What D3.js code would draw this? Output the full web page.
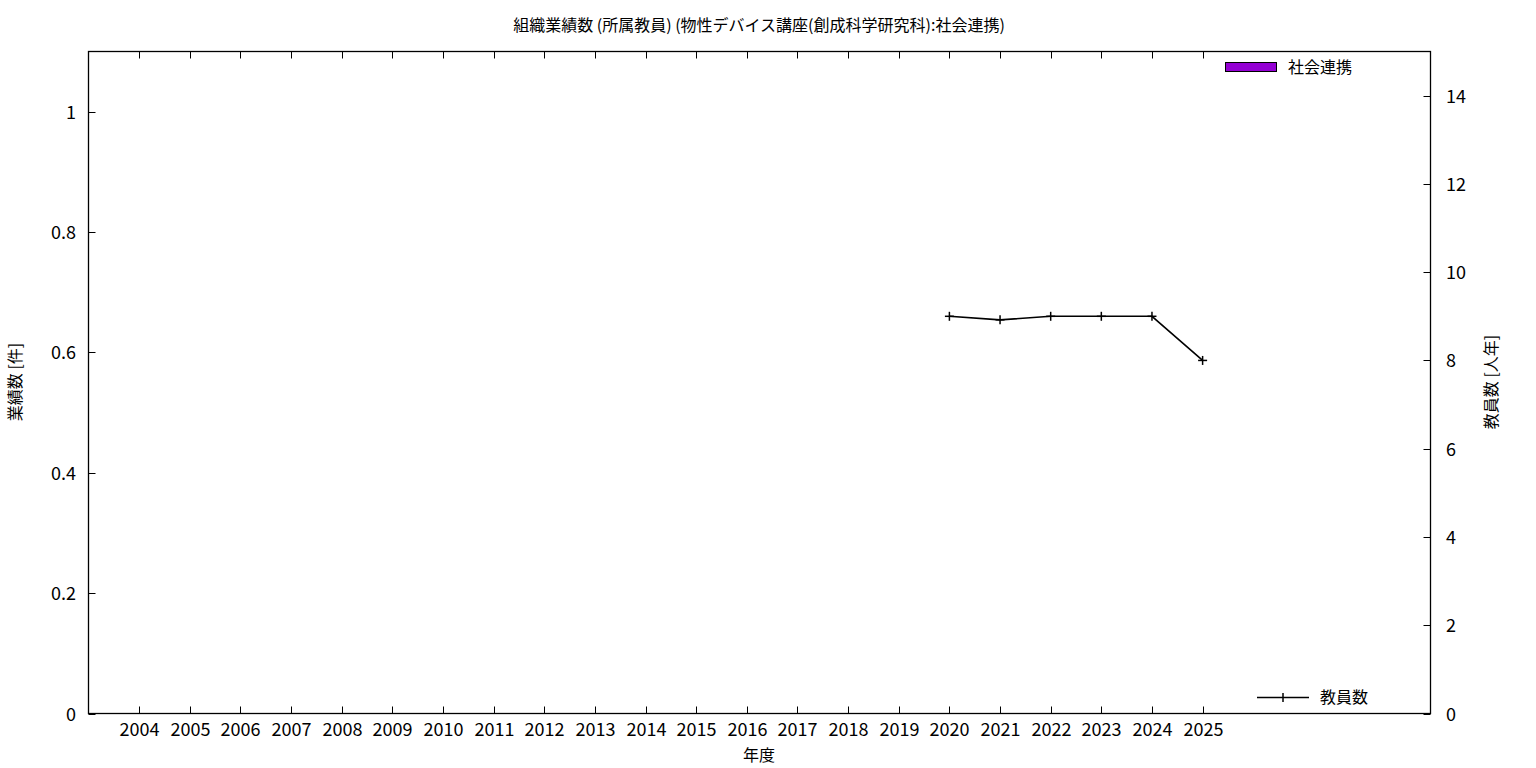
<!DOCTYPE html>
<html><head><meta charset="utf-8">
<script src="https://cdn.jsdelivr.net/npm/d3@7"></script>
<style>
html,body{margin:0;padding:0;background:#fff;}
text{font-family:"Noto Sans CJK JP","Noto Sans",sans-serif;fill:#000;}
</style></head>
<body><svg id="c" width="1536" height="768"></svg>
<script>
const titleText = "組織業績数 (所属教員) (物性デバイス講座(創成科学研究科):社会連携)";
const years = [2004,2005,2006,2007,2008,2009,2010,2011,2012,2013,2014,2015,2016,2017,2018,2019,2020,2021,2022,2023,2024,2025];
const teacherYears = [2020,2021,2022,2023,2024,2025];
const teacherValues = [9,8.92,9,9,9,8];
const barSeries = "社会連携";
const lineSeries = "教員数";
const leftTicks = [0,0.2,0.4,0.6,0.8,1];
const rightTicks = [0,2,4,6,8,10,12,14];

const svg = d3.select("#c");
const L=88.5, R=1430.5, T=51.5, B=713.5;
const x = d3.scaleLinear().domain([2003,2029.5]).range([L,R]);
const yL = d3.scaleLinear().domain([0,1.1]).range([B,T]);
const yR = d3.scaleLinear().domain([0,15]).range([B,T]);

// title
svg.append("text").attr("x",759).attr("y",31).attr("text-anchor","middle")
  .style("font-size","16px").text(titleText);

// frame
svg.append("rect").attr("x",L).attr("y",T).attr("width",R-L).attr("height",B-T)
  .attr("fill","none").attr("stroke","#000").attr("stroke-width",1.3);

const tl = 7;
const gx = svg.append("g");
years.forEach(v=>{
  const px = Math.round(x(v))+0.5;
  gx.append("line").attr("x1",px).attr("x2",px).attr("y1",B).attr("y2",B-tl).attr("stroke","#000");
  gx.append("line").attr("x1",px).attr("x2",px).attr("y1",T).attr("y2",T+tl).attr("stroke","#000");
  gx.append("text").attr("x",px).attr("y",736).attr("text-anchor","middle").style("font-size","18px").text(v);
});
leftTicks.forEach(v=>{
  const py = Math.round(yL(v))+0.5;
  svg.append("line").attr("x1",L).attr("x2",L+tl).attr("y1",py).attr("y2",py).attr("stroke","#000");
  svg.append("text").attr("x",76).attr("y",py).attr("dy","0.36em").attr("text-anchor","end").style("font-size","18px").text(v);
});
rightTicks.forEach(v=>{
  const py = Math.round(yR(v))+0.5;
  svg.append("line").attr("x1",R).attr("x2",R-tl).attr("y1",py).attr("y2",py).attr("stroke","#000");
  svg.append("text").attr("x",1446).attr("y",py).attr("dy","0.36em").attr("text-anchor","start").style("font-size","18px").text(v);
});

svg.append("text").attr("transform","translate(21,382) rotate(-90)").attr("text-anchor","middle")
  .style("font-size","16px").text("業績数 [件]");
svg.append("text").attr("transform","translate(1497,382) rotate(-90)").attr("text-anchor","middle")
  .style("font-size","16px").text("教員数 [人年]");
svg.append("text").attr("x",759).attr("y",761).attr("text-anchor","middle")
  .style("font-size","16px").text("年度");

const pts = teacherYears.map((yv,i)=>[x(yv), yR(teacherValues[i])]);
svg.append("path").attr("d",d3.line()(pts)).attr("fill","none").attr("stroke","#000").attr("stroke-width",1.6);
pts.forEach(p=>{
  svg.append("line").attr("x1",p[0]-4.5).attr("x2",p[0]+4.5).attr("y1",p[1]).attr("y2",p[1]).attr("stroke","#000").attr("stroke-width",1.5);
  svg.append("line").attr("x1",p[0]).attr("x2",p[0]).attr("y1",p[1]-4.5).attr("y2",p[1]+4.5).attr("stroke","#000").attr("stroke-width",1.5);
});

svg.append("rect").attr("x",1225.5).attr("y",62.5).attr("width",51).attr("height",9)
  .attr("fill","#9400d3").attr("stroke","#000").attr("stroke-width",1);
svg.append("text").attr("x",1288).attr("y",73).style("font-size","16px").text(barSeries);
svg.append("line").attr("x1",1257).attr("x2",1309).attr("y1",697.5).attr("y2",697.5).attr("stroke","#000").attr("stroke-width",1.6);
svg.append("line").attr("x1",1283).attr("x2",1283).attr("y1",693).attr("y2",702).attr("stroke","#000").attr("stroke-width",1.5);
svg.append("text").attr("x",1320).attr("y",703).style("font-size","16px").text(lineSeries);
</script></body></html>
